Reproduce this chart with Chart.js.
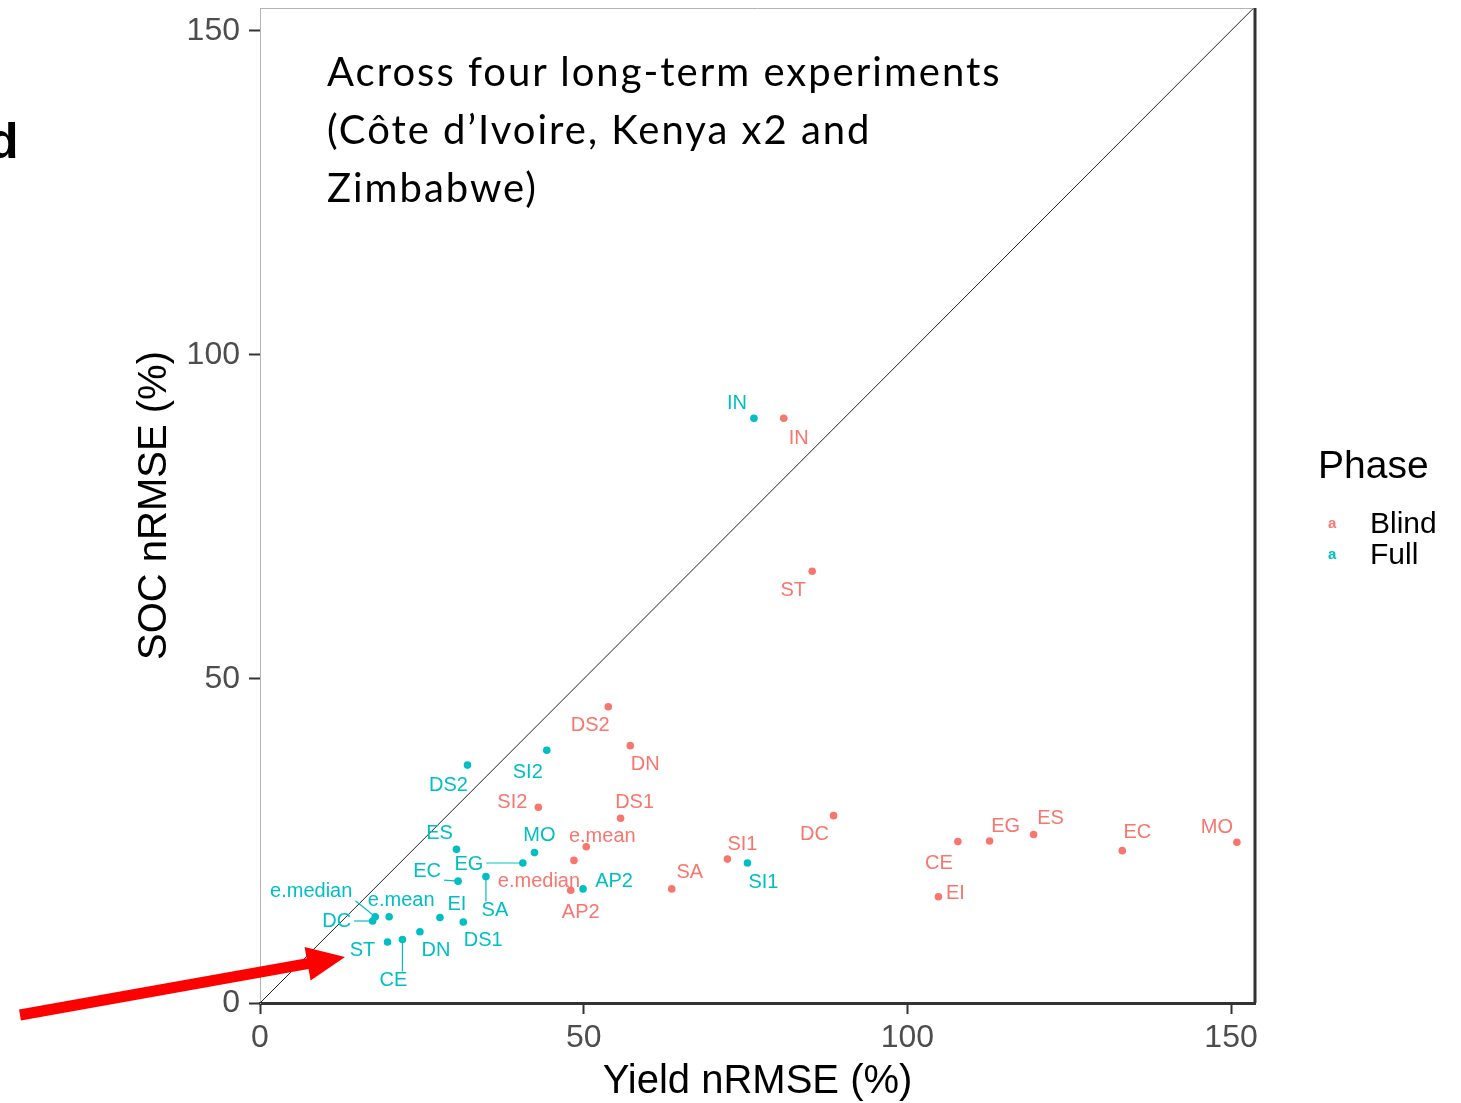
<!DOCTYPE html>
<html>
<head>
    <title>Yield vs SOC nRMSE</title>
    <style>
        body {margin: 0; background: #fff; overflow: hidden;}
        #wrap {position: relative; width: 1461px; height: 1103px;}
        #note {position: absolute; left: 327px; top: 42px; font: 40px Lato, "Open Sans", sans-serif; letter-spacing: 2px; line-height: 58px; color: #000; white-space: nowrap;}
        #cutoff {position: absolute; left: -12px; top: 112px; font: bold 50px "Liberation Sans", Arial, sans-serif; color: #000;}
    </style>
    <script src="https://cdn.jsdelivr.net/npm/chart.js"></script>
</head>
<body>
<div id="wrap">
    <canvas id="chart" width="1461" height="1103"></canvas>
    <div id="note">Across four long-term experiments<br>(Côte d’Ivoire, Kenya x2 and<br>Zimbabwe)</div>
    <div id="cutoff">d</div>
</div>

<script>
    // models, same order in every array
    var models = ['AP2', 'CE', 'DC', 'DN', 'DS1', 'DS2', 'EC', 'EG', 'EI', 'ES', 'IN', 'MO', 'SA', 'SI1', 'SI2', 'ST', 'e.mean', 'e.median'];

    var blindYield = [48.0, 107.8, 88.6, 57.2, 55.7, 53.8, 133.2, 112.7, 104.8, 119.5, 80.9, 150.9, 63.6, 72.2, 43.0, 85.3, 50.4, 48.5];
    var blindSOC   = [17.4, 24.9, 28.9, 39.7, 28.5, 45.7, 23.5, 25.0, 16.4, 26.0, 90.2, 24.8, 17.6, 22.2, 30.2, 66.6, 24.1, 22.0];

    var fullYield = [49.9, 22.0, 17.4, 24.7, 31.4, 32.05, 30.6, 40.6, 27.8, 30.35, 76.3, 42.4, 34.9, 75.3, 44.3, 19.7, 19.95, 17.8];
    var fullSOC   = [17.6, 9.8, 12.65, 11.0, 12.5, 36.7, 18.8, 21.6, 13.2, 23.7, 90.2, 23.2, 19.5, 21.6, 39.0, 9.4, 13.3, 13.3];

    var tickValues = [0, 50, 100, 150];
    var phases = ['Blind', 'Full'];
    var phaseColors = ['#F8766D', '#00BFC4'];

    // where each text label sits relative to its point (px), like ggrepel did it
    var blindNudge = [[10, 22], [-19, 22], [-19, 19], [15, 19], [14, -16], [-18, 19], [15, -18], [16, -14], [17, -3], [17, -16], [15, 20], [-20, -15], [18, -16], [15, -15], [-26, -5], [-19, 19], [16, -10], [-35, 21]];
    var fullNudge = [[31, -7], [-9, 41], [-36, 0], [16, 19], [20, 19], [-19, 20], [-31, -10], [-54, 1], [17, -13], [-17, -16], [-17, -15], [5, -17], [9, 34], [16, 19], [-19, 22], [-25, 8], [12, -16], [-64, -25]];
    var fullLeader = ['CE', 'DC', 'EC', 'EG', 'SA', 'e.median'];

    function toPoints(xs, ys) {
        return xs.map(function(x, i) { return {x: x, y: ys[i]}; });
    }

    var sansFont = '"Liberation Sans", Arial, sans-serif';

    var labelPlugin = {
        id: 'labels',
        afterDatasetsDraw: function(chart) {
            var ctx = chart.ctx;
            ctx.save();
            ctx.font = '20px ' + sansFont;
            ctx.textAlign = 'center';
            ctx.textBaseline = 'middle';
            [0, 1].forEach(function(di) {
                var meta = chart.getDatasetMeta(di);
                var nudge = di === 0 ? blindNudge : fullNudge;
                ctx.fillStyle = phaseColors[di];
                ctx.strokeStyle = phaseColors[di];
                ctx.lineWidth = 1.2;
                meta.data.forEach(function(pt, i) {
                    var lx = pt.x + nudge[i][0], ly = pt.y + nudge[i][1];
                    var txt = models[i];
                    ctx.fillText(txt, lx, ly);
                    if (di === 1 && fullLeader.indexOf(txt) >= 0) {
                        var hw = ctx.measureText(txt).width / 2 + 3, hh = 9;
                        var cx = Math.max(lx - hw, Math.min(pt.x, lx + hw));
                        var cy = Math.max(ly - hh, Math.min(pt.y, ly + hh));
                        ctx.beginPath();
                        ctx.moveTo(cx, cy);
                        ctx.lineTo(pt.x, pt.y);
                        ctx.stroke();
                    }
                });
            });
            ctx.restore();
        },
        afterDraw: function(chart) {
            var ctx = chart.ctx, a = chart.chartArea;
            ctx.save();
            // rest of the panel frame
            ctx.strokeStyle = '#b3b3b3';
            ctx.lineWidth = 1;
            ctx.beginPath();
            ctx.moveTo(a.left, a.top + 0.5);
            ctx.lineTo(a.right, a.top + 0.5);
            ctx.stroke();
            ctx.strokeStyle = '#333';
            ctx.lineWidth = 3;
            ctx.beginPath();
            ctx.moveTo(a.right, a.top);
            ctx.lineTo(a.right, a.bottom);
            ctx.stroke();

            // legend
            ctx.fillStyle = '#000';
            ctx.textAlign = 'left';
            ctx.textBaseline = 'alphabetic';
            ctx.font = '39px ' + sansFont;
            ctx.fillText('Phase', 1318, 478);
            phases.forEach(function(p, i) {
                var y = 533 + i * 31;
                ctx.font = '30px ' + sansFont;
                ctx.fillStyle = '#000';
                ctx.fillText(p, 1370, y);
                ctx.font = 'bold 15px ' + sansFont;
                ctx.fillStyle = phaseColors[i];
                ctx.fillText('a', 1328, y - 5);
            });

            // red arrow pointing at the full-phase cluster
            var x0 = 20, y0 = 1015, x1 = 345, y1 = 957;
            var ang = Math.atan2(y1 - y0, x1 - x0);
            var headLen = 38, headW = 17, shaft = 5.5;
            var bx = x1 - headLen * Math.cos(ang), by = y1 - headLen * Math.sin(ang);
            var nx = -Math.sin(ang), ny = Math.cos(ang);
            ctx.fillStyle = '#FF0000';
            ctx.beginPath();
            ctx.moveTo(x0 + nx * shaft, y0 + ny * shaft);
            ctx.lineTo(bx + nx * shaft, by + ny * shaft);
            ctx.lineTo(bx + nx * headW, by + ny * headW);
            ctx.lineTo(x1, y1);
            ctx.lineTo(bx - nx * headW, by - ny * headW);
            ctx.lineTo(bx - nx * shaft, by - ny * shaft);
            ctx.lineTo(x0 - nx * shaft, y0 - ny * shaft);
            ctx.closePath();
            ctx.fill();
            ctx.restore();
        }
    };

    var ctx = document.getElementById('chart').getContext('2d');
    var chart = new Chart(ctx, {
        type: 'scatter',
        data: {
            datasets: [
                {
                    label: 'Blind',
                    data: toPoints(blindYield, blindSOC),
                    backgroundColor: phaseColors[0],
                    borderWidth: 0,
                    pointRadius: 3.8
                },
                {
                    label: 'Full',
                    data: toPoints(fullYield, fullSOC),
                    backgroundColor: phaseColors[1],
                    borderWidth: 0,
                    pointRadius: 3.8
                },
                {
                    // 1:1 line
                    type: 'line',
                    label: '1:1',
                    data: [{x: 0, y: 0}, {x: 160, y: 160}],
                    borderColor: '#222',
                    borderWidth: 1,
                    pointRadius: 0
                }
            ]
        },
        options: {
            responsive: false,
            animation: false,
            layout: {padding: {left: 0, top: 8, right: 206, bottom: 0}},
            plugins: {
                legend: {display: false},
                tooltip: {enabled: false}
            },
            scales: {
                x: {
                    type: 'linear',
                    min: 0,
                    max: 153.7,
                    afterBuildTicks: function(scale) {
                        scale.ticks = tickValues.map(function(v) { return {value: v}; });
                    },
                    afterFit: function(scale) {
                        scale.height = 100;
                        scale.paddingLeft = 0;
                        scale.paddingRight = 0;
                    },
                    grid: {drawOnChartArea: false, drawTicks: true, tickLength: 11, tickColor: '#333', tickWidth: 2},
                    border: {display: true, color: '#333', width: 3},
                    ticks: {color: '#4d4d4d', padding: 5, font: {size: 32, family: sansFont}},
                    title: {display: true, text: 'Yield nRMSE (%)', color: '#000', padding: {top: 0, bottom: 1}, font: {size: 40, family: sansFont, lineHeight: 1}}
                },
                y: {
                    type: 'linear',
                    min: 0,
                    max: 153.5,
                    afterBuildTicks: function(scale) {
                        scale.ticks = tickValues.map(function(v) { return {value: v}; });
                    },
                    afterFit: function(scale) {
                        scale.width = 260;
                        scale.paddingTop = 0;
                        scale.paddingBottom = 0;
                    },
                    grid: {drawOnChartArea: false, drawTicks: true, tickLength: 11, tickColor: '#333', tickWidth: 2},
                    border: {display: true, color: '#b3b3b3', width: 1},
                    ticks: {color: '#4d4d4d', padding: 9, font: {size: 32, family: sansFont}},
                    title: {display: true, text: 'SOC nRMSE (%)', color: '#000', padding: {top: 135, bottom: 0}, font: {size: 40, family: sansFont, lineHeight: 1}}
                }
            }
        },
        plugins: [labelPlugin]
    });
</script>
</body>
</html>
